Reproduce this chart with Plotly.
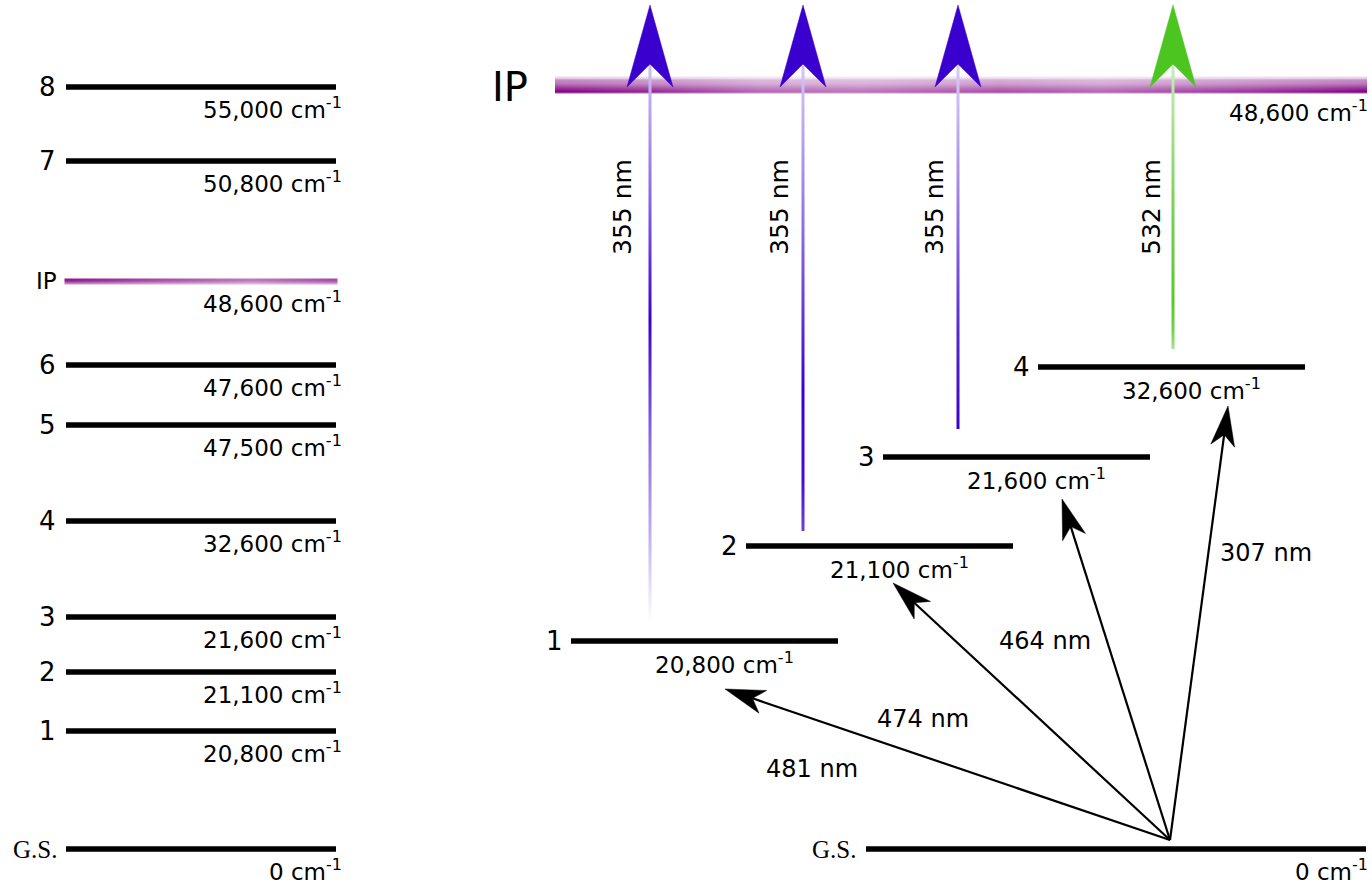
import numpy as np
import plotly.graph_objects as go

# ---------------- data ----------------
left_labels = ["8", "7", "IP", "6", "5", "4", "3", "2", "1", "G.S."]
left_energies = [55000, 50800, 48600, 47600, 47500, 32600, 21600, 21100, 20800, 0]

right_labels = ["1", "2", "3", "4"]
right_energies = [20800, 21100, 21600, 32600]
ip_energy = 48600
gs_energy = 0
excitation_nm = [481, 474, 464, 307]
ionization_nm = [355, 355, 355, 532]

# ---------------- drawing layout (pixel space) ----------------
W, H = 1372, 886
left_x0, left_x1 = 66, 336
left_y = [87, 161, 281, 365, 425, 521, 617, 672, 731, 849]

right_x0 = [571, 746, 883, 1038]
level_len = 267
right_y = [641, 546, 457, 367]
gs_x0, gs_x1, gs_y = 866, 1366, 849
ip_x0, ip_x1, ip_y0, ip_y1 = 557, 1366, 77, 93
origin = (1170, 840)
arrow_tips = [(725, 689), (893, 583), (1062, 499), (1228, 406)]
arrow_label_pos = [(812, 769), (923, 719), (1045, 641), (1266, 553)]
laser_x = [650, 803, 958, 1173]
laser_bottom = [622, 531, 428, 348]
laser_label_x = [622, 779, 934, 1151]
laser_profiles = [
    ([62, 100, 200, 320, 450, 540, 622], [0.25, 0.33, 0.6, 1.0, 0.55, 0.3, 0.0]),
    ([62, 110, 220, 390, 480, 531], [0.22, 0.3, 0.55, 1.0, 0.95, 0.75]),
    ([62, 110, 220, 330, 428], [0.2, 0.28, 0.55, 0.85, 1.0]),
    ([62, 110, 200, 300, 330, 348], [0.3, 0.45, 0.75, 0.95, 0.8, 0.5]),
]
BLUE = "rgb(58,0,205)"
GREEN = "rgb(77,197,33)"
laser_colors = [BLUE, BLUE, BLUE, GREEN]
PURPLE = "rgb(128,0,128)"

SANS = "DejaVu Sans"
SERIF = "Liberation Serif"

fig = go.Figure()


def grad_heatmap(xc, yc, z, color):
    fig.add_trace(go.Heatmap(
        x=xc, y=yc, z=z, zmin=0, zmax=1, zsmooth="best",
        colorscale=[[0, "rgb(255,255,255)"], [1, color]],
        showscale=False, hoverinfo="skip"))


# IP bar (right)
xs = np.arange(ip_x0, ip_x1 + 1, 4)
ys = np.arange(ip_y0, ip_y1 + 1, 1)
hx = np.interp(xs, [557, 650, 760, 860, 1000, 1100, 1250, 1366],
               [1.0, 0.85, 0.6, 0.55, 0.7, 0.6, 0.8, 1.0])
vy = np.interp(ys, [77, 79, 83, 88, 91, 93], [0.15, 0.45, 0.55, 0.85, 1.0, 0.3])
grad_heatmap(xs, ys, np.outer(vy, hx), PURPLE)

# IP line (left)
xs2 = np.arange(left_x0, left_x1 + 1, 3)
ys2 = np.arange(279, 285, 1)
hx2 = np.interp(xs2, [66, 150, 250, 336], [0.95, 0.75, 0.55, 0.75])
vy2 = np.array([0.95, 0.9, 0.75, 0.6, 0.45, 0.3])
grad_heatmap(xs2, ys2, np.outer(vy2, hx2), PURPLE)

# laser lines
for x, yb, (ky, kv), col in zip(laser_x, laser_bottom, laser_profiles, laser_colors):
    yy = np.arange(62, yb + 1, 2)
    zz = np.interp(yy, ky, kv)
    grad_heatmap([x - 0.75, x + 0.75], yy, np.column_stack([zz, zz]), col)

shapes = []
annotations = []


def hline(x0, x1, y, w=5.5):
    shapes.append(dict(type="line", x0=x0, x1=x1, y0=y, y1=y, xref="x", yref="y",
                       line=dict(color="black", width=w)))


def text(x, y, s, size, xanchor="center", family=SANS, angle=0):
    annotations.append(dict(x=x, y=y, xref="x", yref="y", text=s, showarrow=False,
                            xanchor=xanchor, yanchor="middle", textangle=angle,
                            font=dict(family=family, size=size, color="black")))


def energy_label(e):
    return f"{e:,} cm<sup>-1</sup>"


# left panel
for lab, e, y in zip(left_labels, left_energies, left_y):
    if lab != "IP":
        hline(left_x0, left_x1, y)
    if lab == "G.S.":
        text(59, y, lab, 25, xanchor="right", family=SERIF)
    elif lab == "IP":
        text(59, y, lab, 23, xanchor="right")
    else:
        text(58, y, lab, 26, xanchor="right")
    text(344, y + 21, energy_label(e), 23, xanchor="right")

# right panel levels
for lab, e, x0, y in zip(right_labels, right_energies, right_x0, right_y):
    hline(x0, x0 + level_len, y)
    text(x0 - 6, y, lab, 26, xanchor="right")
    text(x0 + level_len - 42, y + 22, energy_label(e), 23, xanchor="right")

hline(gs_x0, gs_x1, gs_y)
text(gs_x0 - 8, gs_y, "G.S.", 25, xanchor="right", family=SERIF)
text(1370, gs_y + 21, energy_label(gs_energy), 23, xanchor="right")
text(510, 87, "IP", 40)
text(1370, 111, energy_label(ip_energy), 23, xanchor="right")


# black excitation arrows
def arrow(tip, org, length=40, half=12, notch=29):
    t = np.array(tip, float)
    o = np.array(org, float)
    d = (t - o) / np.linalg.norm(t - o)
    p = np.array([-d[1], d[0]])
    b = t - d * length
    n = t - d * notch
    shapes.append(dict(type="line", x0=o[0], y0=o[1], x1=n[0], y1=n[1], xref="x", yref="y",
                       line=dict(color="black", width=2.2)))
    pts = [t, b + p * half, n, b - p * half]
    path = "M" + " L".join(f"{q[0]:.1f},{q[1]:.1f}" for q in pts) + " Z"
    shapes.append(dict(type="path", path=path, xref="x", yref="y",
                       fillcolor="black", line=dict(color="black", width=0.5)))


for tip, nm, pos in zip(arrow_tips, excitation_nm, arrow_label_pos):
    arrow(tip, origin)
    text(pos[0], pos[1], f"{nm} nm", 24)

# laser arrowheads + labels
for x, nm, lx, col in zip(laser_x, ionization_nm, laser_label_x, laser_colors):
    pts = [(x, 5), (x + 23, 87), (x, 64), (x - 23, 87)]
    path = "M" + " L".join(f"{a},{b}" for a, b in pts) + " Z"
    shapes.append(dict(type="path", path=path, xref="x", yref="y",
                       fillcolor=col, line=dict(color=col, width=0.5)))
    text(lx, 207, f"{nm} nm", 25, angle=-90)

fig.update_layout(
    width=W, height=H, margin=dict(l=0, r=0, t=0, b=0),
    paper_bgcolor="white", plot_bgcolor="white",
    xaxis=dict(range=[0, W], visible=False, fixedrange=True),
    yaxis=dict(range=[H, 0], visible=False, fixedrange=True),
    shapes=shapes, annotations=annotations, showlegend=False,
)
fig.write_html("out.html")
